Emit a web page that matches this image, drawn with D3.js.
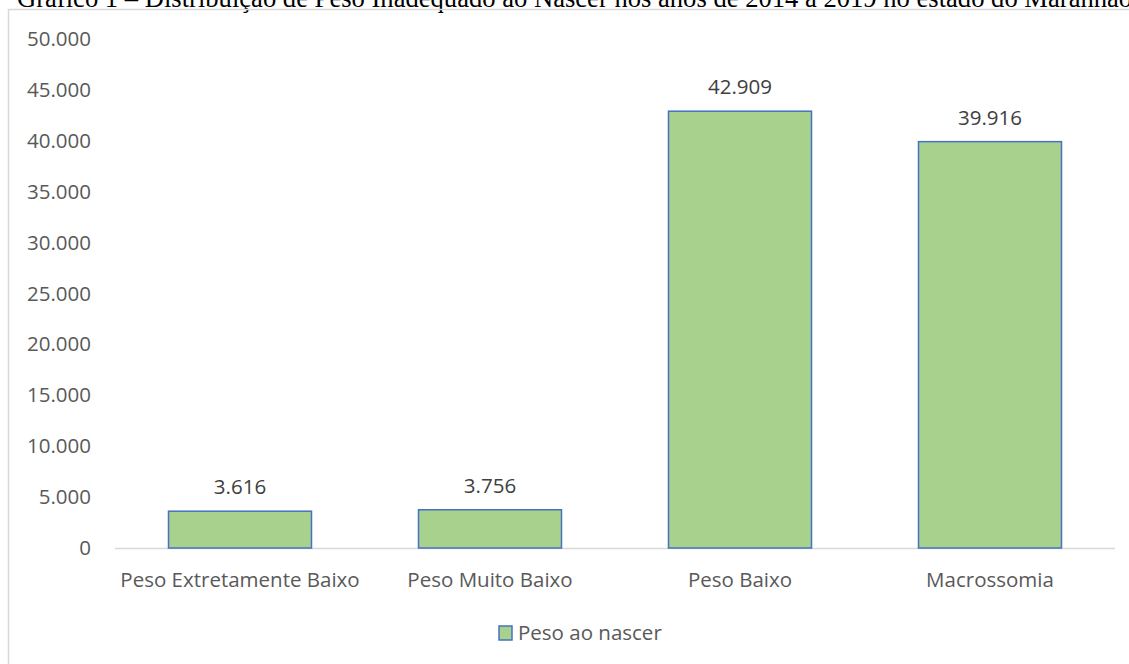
<!DOCTYPE html>
<html>
<head>
<meta charset="utf-8">
<script src="https://cdn.jsdelivr.net/npm/d3@7"></script>
<style>
  body { margin: 0; background: #fff; }
  svg { display: block; }
</style>
</head>
<body>
<div id="chart"></div>
<script>
// data
var categories = ["Peso Extretamente Baixo", "Peso Muito Baixo", "Peso Baixo", "Macrossomia"];
var values = [3616, 3756, 42909, 39916];
var yTicks = [0, 5000, 10000, 15000, 20000, 25000, 30000, 35000, 40000, 45000, 50000];
var seriesName = "Peso ao nascer";
var titleText = "Gráfico 1 – Distribuição de Peso Inadequado ao Nascer nos anos de 2014 a 2019 no estado do Maranhão";

var W = 1129, H = 664;
var font = "'Open Sans', 'Noto Sans', sans-serif";
var fontSize = 20.5;
var fmt = function(d) { return d3.format(",")(d).replace(/,/g, "."); };

var svg = d3.select("#chart").append("svg")
    .attr("width", W)
    .attr("height", H);

//title, clipped by the top of the page
svg.append("text")
    .attr("x", 17)
    .attr("y", 7)
    .attr("font-family", "'Liberation Serif', 'Times New Roman', serif")
    .attr("font-size", 26.6)
    .attr("fill", "#000")
    .text(titleText);

//chart frame
svg.append("rect")
    .attr("x", 8.5)
    .attr("y", 9.5)
    .attr("width", W + 20)
    .attr("height", H + 20)
    .attr("fill", "none")
    .attr("stroke", "#d9d9d9")
    .attr("stroke-width", 1.5);

var margin = {top: 39, left: 115, right: 14, bottom: 116};

var x = d3.scaleBand()
    .domain(categories)
    .range([margin.left, W - margin.right])
    .paddingInner(0.428)
    .paddingOuter(0.214);

var y = d3.scaleLinear()
    .domain([0, 50000])
    .range([H - margin.bottom, margin.top]);

//y axis labels
var yAxis = d3.axisLeft(y)
    .tickValues(yTicks)
    .tickFormat(fmt)
    .tickSize(0)
    .tickPadding(0);

var gy = svg.append("g")
    .attr("transform", "translate(91,0)")
    .call(yAxis);
gy.select(".domain").remove();
gy.selectAll("text")
    .attr("font-family", font)
    .attr("font-size", fontSize)
    .attr("fill", "#595959");

//baseline
svg.append("line")
    .attr("x1", margin.left)
    .attr("x2", W - margin.right)
    .attr("y1", y(0) + 0.5)
    .attr("y2", y(0) + 0.5)
    .attr("stroke", "#d9d9d9")
    .attr("stroke-width", 1.5);

//bars
svg.selectAll("rect.bar")
    .data(values)
    .enter().append("rect")
    .attr("class", "bar")
    .attr("x", function(d, i) { return x(categories[i]); })
    .attr("y", function(d) { return y(d); })
    .attr("width", x.bandwidth())
    .attr("height", function(d) { return y(0) - y(d); })
    .attr("fill", "#a9d18e")
    .attr("stroke", "#4472c4")
    .attr("stroke-width", 1.5);

//value labels
svg.selectAll("text.val")
    .data(values)
    .enter().append("text")
    .attr("class", "val")
    .attr("x", function(d, i) { return x(categories[i]) + x.bandwidth() / 2; })
    .attr("y", function(d) { return y(d) - 17; })
    .attr("text-anchor", "middle")
    .attr("font-family", font)
    .attr("font-size", fontSize)
    .attr("fill", "#404040")
    .text(fmt);

//x axis labels
var xAxis = d3.axisBottom(x).tickSize(0).tickPadding(0);
var gx = svg.append("g")
    .attr("transform", "translate(0," + (y(0) + 39) + ")")
    .call(xAxis);
gx.select(".domain").remove();
gx.selectAll("text")
    .attr("dy", 0)
    .attr("font-family", font)
    .attr("font-size", fontSize)
    .attr("fill", "#595959");

//legend
var lg = svg.append("g").attr("transform", "translate(499,626)");
lg.append("rect")
    .attr("width", 13)
    .attr("height", 14)
    .attr("fill", "#a9d18e")
    .attr("stroke", "#4472c4")
    .attr("stroke-width", 1.5);
lg.append("text")
    .attr("x", 19)
    .attr("y", 14)
    .attr("font-family", font)
    .attr("font-size", fontSize)
    .attr("fill", "#595959")
    .text(seriesName);
</script>
</body>
</html>
